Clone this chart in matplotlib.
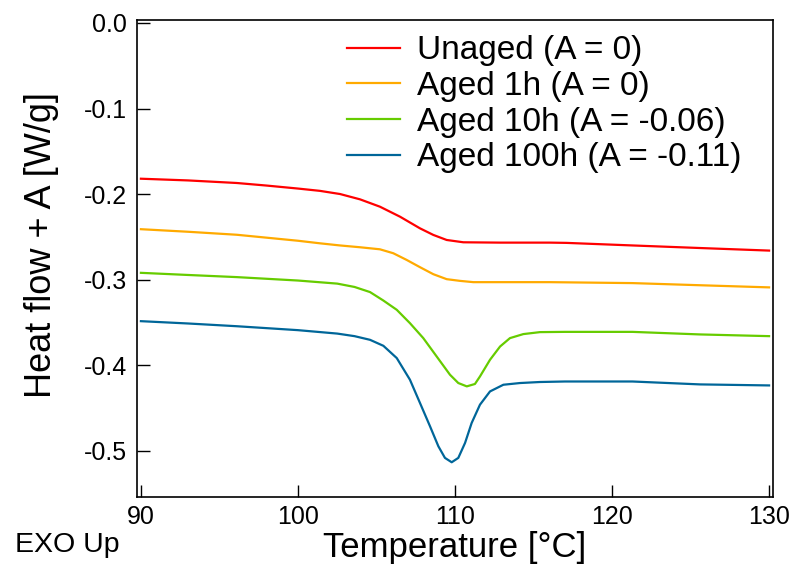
import matplotlib
matplotlib.use("Agg")
import matplotlib.pyplot as plt

plt.rcParams["font.family"] = ["Liberation Sans", "DejaVu Sans"]

# values (temperature in °C, heat flow + A in W/g)
t_unaged = [90, 93, 96.1, 98, 100, 101.4, 102.68, 103.95, 105.22, 106.5, 107.77, 108.62, 109.47,
            110.53, 112.9, 116.05, 117.1, 121.3, 125.6, 130]
hf_unaged = [-0.182, -0.184, -0.187, -0.190, -0.1935, -0.1962, -0.1999, -0.2061, -0.2147, -0.2264,
             -0.2400, -0.2477, -0.2536, -0.2563, -0.2567, -0.2567, -0.257, -0.260, -0.263, -0.266]

t_1h = [90, 93, 96.1, 100, 101.4, 102.68, 103.95, 105.22, 106.07, 106.92, 107.77, 108.62, 109.47,
        110.32, 111.17, 116.05, 121.3, 125.6, 130]
hf_1h = [-0.241, -0.244, -0.2475, -0.2545, -0.2575, -0.2600, -0.2621, -0.2645, -0.2691, -0.2769,
         -0.2854, -0.2936, -0.2994, -0.3014, -0.3029, -0.3029, -0.304, -0.3065, -0.309]

t_10h = [90, 93, 96.1, 100, 102.5, 103.6, 104.59, 105.44, 106.29, 107.13, 107.98, 108.83, 109.68,
         110.21, 110.75, 111.27, 111.59, 112.23, 112.87, 113.5, 114.35, 115.41, 117, 121.3, 125.6, 130]
hf_10h = [-0.292, -0.2945, -0.297, -0.301, -0.3046, -0.3085, -0.3145, -0.3244, -0.3352, -0.3508,
          -0.3683, -0.3897, -0.4111, -0.4208, -0.4247, -0.4219, -0.4131, -0.3936, -0.3781, -0.3683,
          -0.3636, -0.3613, -0.361, -0.361, -0.364, -0.366]

t_100h = [90, 93, 96.1, 100, 102.5, 103.6, 104.59, 105.44, 106.29, 107.13, 107.77, 108.41, 108.94,
          109.36, 109.79, 110.21, 110.64, 111.06, 111.59, 112.23, 113.08, 114.14, 115.41, 117, 121.3,
          125.6, 130]
hf_100h = [-0.3485, -0.3512, -0.3544, -0.359, -0.363, -0.366, -0.3703, -0.3773, -0.3916, -0.4169,
           -0.4441, -0.4714, -0.4947, -0.5083, -0.5134, -0.5083, -0.4908, -0.4675, -0.4461, -0.4306,
           -0.4228, -0.4208, -0.4196, -0.419, -0.419, -0.4224, -0.4236]

labels = ["Unaged (A = 0)", "Aged 1h (A = 0)", "Aged 10h (A = -0.06)", "Aged 100h (A = -0.11)"]
colors = ["#ff0000", "#ffaa00", "#66cc00", "#006699"]

xticks = [90, 100, 110, 120, 130]
yticks = [0.0, -0.1, -0.2, -0.3, -0.4, -0.5]

fig = plt.figure(figsize=(7.94, 5.73), dpi=100)
ax = fig.add_axes([137 / 794, 1 - 497 / 573, (773 - 137) / 794, (497 - 20) / 573])

series = [(t_unaged, hf_unaged), (t_1h, hf_1h), (t_10h, hf_10h), (t_100h, hf_100h)]
for (t, hf), lab, c in zip(series, labels, colors):
    ax.plot(t, hf, color=c, lw=1.6, label=lab, solid_joinstyle="round")

ax.set_xlim(89.75, 130.25)
ax.set_ylim(-0.554, 0.0035)
ax.set_xticks(xticks)
ax.set_yticks(yticks)
ax.set_yticklabels([f"{v:.1f}" for v in yticks])
ax.tick_params(direction="in", length=9, width=1, labelsize=18, pad=6)
ax.tick_params(axis="y", pad=7)
for s in ax.spines.values():
    s.set_linewidth(1.2)

ax.set_xlabel("Temperature [°C]", fontsize=25, labelpad=1)
ax.set_ylabel("Heat flow + A [W/g]", fontsize=26)
ax.yaxis.set_label_coords(-0.122, 0.528)

ax.legend(loc="upper left", bbox_to_anchor=(0.330, 0.968), frameon=False, fontsize=24,
          borderpad=0, borderaxespad=0, handlelength=1.6, handletextpad=0.5, labelspacing=0.14)

fig.text(15 / 794, 1 - 552 / 573, "EXO Up", fontsize=20.5, va="baseline", ha="left")

fig.savefig("out.png", dpi=100)
